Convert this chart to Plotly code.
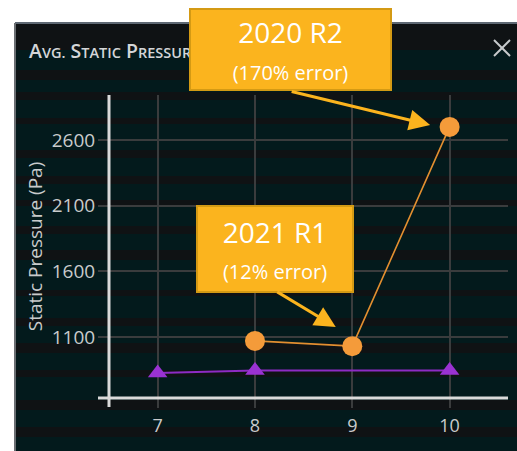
import plotly.graph_objects as go

# ---- data ----
orange_x = [8, 9, 10]
orange_y = [1070, 1030, 2700]
purple_x = [7, 8, 10]
purple_y = [825, 845, 845]
x_ticks = [7, 8, 9, 10]
y_ticks = [1100, 1600, 2100, 2600]
y_title = "Static Pressure (Pa)"
note1 = ("2020 R2", "(170% error)")
note2 = ("2021 R1", "(12% error)")

W, H = 517, 451
ML = 109
MT = 95
MR = W - 508
MB = H - 398
PW, PH = W - ML - MR, H - MT - MB


def px(x):  # screen x -> paper
    return (x - ML) / PW


def py(y):  # screen y -> paper
    return (H - MB - y) / PH


fig = go.Figure()
fig.add_trace(go.Scatter(
    x=purple_x, y=purple_y, mode="lines+markers",
    line=dict(color="#8E2BC4", width=2),
    marker=dict(symbol="triangle-up", size=17, color="#9A32D2"),
    showlegend=False, cliponaxis=False))
fig.add_trace(go.Scatter(
    x=orange_x, y=orange_y, mode="lines+markers",
    line=dict(color="#E38F30", width=1.6),
    marker=dict(symbol="circle", size=20, color="#F49B3A"),
    showlegend=False, cliponaxis=False))

shapes = []
shapes.append(dict(type="rect", xref="paper", yref="paper", layer="below",
                   x0=px(15), x1=px(530), y0=py(460), y1=py(22),
                   fillcolor="#031A1C", line=dict(width=0)))
bands = [(22, 50), (70, 80), (92, 100), (118, 124), (150, 158), (176, 184),
         (200, 206), (226, 234), (250, 260), (290, 296), (318, 326),
         (343, 353), (370, 377), (400, 410), (427, 437)]
for a, b in bands:
    shapes.append(dict(type="rect", xref="paper", yref="paper", layer="below",
                       x0=px(15), x1=px(530), y0=py(b), y1=py(a),
                       fillcolor="#0F1214", line=dict(width=0)))
shapes.append(dict(type="line", xref="paper", yref="paper", layer="below",
                   x0=px(15), x1=px(530), y0=py(23), y1=py(23),
                   line=dict(color="#5E6873", width=2)))
shapes.append(dict(type="line", xref="paper", yref="paper", layer="below",
                   x0=px(15), x1=px(15), y0=py(460), y1=py(23),
                   line=dict(color="#6A6E72", width=2)))
# close "x"
shapes.append(dict(type="line", xref="paper", yref="paper", layer="above",
                   x0=px(494), x1=px(510), y0=py(40), y1=py(56),
                   line=dict(color="#C8CACC", width=2)))
shapes.append(dict(type="line", xref="paper", yref="paper", layer="above",
                   x0=px(494), x1=px(510), y0=py(56), y1=py(40),
                   line=dict(color="#C8CACC", width=2)))
# axis lines with overhang
shapes.append(dict(type="line", xref="paper", yref="paper", layer="above",
                   x0=0, x1=0, y0=py(407), y1=1,
                   line=dict(color="#DADADA", width=3)))
shapes.append(dict(type="line", xref="paper", yref="paper", layer="above",
                   x0=px(98), x1=1, y0=0, y1=0,
                   line=dict(color="#DADADA", width=3)))

annotations = []
annotations.append(dict(
    xref="paper", yref="paper", x=px(27), y=py(50), xanchor="left", yanchor="middle",
    showarrow=False,
    text=("A<span style='font-size:14.5px'>VG.</span> S<span style='font-size:14.5px'>TATIC</span> "
          "P<span style='font-size:14.5px'>RESSURE</span>"),
    font=dict(family="Open Sans", size=19.5, color="#D4D6D8", weight=600)))

box_style = dict(bgcolor="#FBB41E", bordercolor="#D49A14", borderwidth=2, borderpad=0,
                 font=dict(family="Open Sans", size=28, color="white"),
                 xref="paper", yref="paper", showarrow=False, align="center")
annotations.append(dict(
    x=px(290), y=py(49.5), xanchor="center", yanchor="middle", width=199, height=79,
    text=f"{note1[0]}<br><span style='font-size:20px'>{note1[1]}</span>", **box_style))
annotations.append(dict(
    x=px(275), y=py(249), xanchor="center", yanchor="middle", width=154, height=84,
    text=f"{note2[0]}<br><span style='font-size:20px'>{note2[1]}</span>", **box_style))

arrow_style = dict(showarrow=True, text="", arrowhead=2, arrowsize=1.4, arrowwidth=3,
                   arrowcolor="#FBB41E", standoff=0, xref="x", yref="y",
                   axref="pixel", ayref="pixel")
annotations.append(dict(x=9.80, y=2714, ax=-140, ay=-34, **arrow_style))
annotations.append(dict(x=8.83, y=1176, ax=-60, ay=-36, **arrow_style))

fig.update_layout(
    width=W, height=H,
    margin=dict(l=ML, r=MR, t=MT, b=MB, pad=0),
    paper_bgcolor="white", plot_bgcolor="rgba(0,0,0,0)",
    shapes=shapes, annotations=annotations,
    font=dict(family="Open Sans", color="#C9CBCC", size=17),
)
fig.update_xaxes(
    range=[6.5, 10.6], tickvals=x_ticks, ticktext=[str(v) for v in x_ticks],
    showgrid=True, gridcolor="#3A3C3D", gridwidth=2, zeroline=False,
    showline=False, ticks="outside", ticklen=9, tickwidth=2, tickcolor="#3A3C3D",
    tickfont=dict(size=18, color="#C9CBCC"), ticklabelstandoff=2)
fig.update_yaxes(
    range=[635, 2943], tickvals=y_ticks, ticktext=[str(v) for v in y_ticks],
    showgrid=True, gridcolor="#3A3C3D", gridwidth=2, zeroline=False,
    showline=False, ticks="outside", ticklen=10, tickwidth=2, tickcolor="#3A3C3D",
    tickfont=dict(size=19, color="#C9CBCC"), ticklabelstandoff=-1,
    title=dict(text=y_title, font=dict(size=19, color="#C9CBCC"), standoff=4))

fig.write_html(
    "out.html",
    config={"displayModeBar": False},
    post_script="document.body.style.margin='0';document.body.style.overflow='hidden';",
)
